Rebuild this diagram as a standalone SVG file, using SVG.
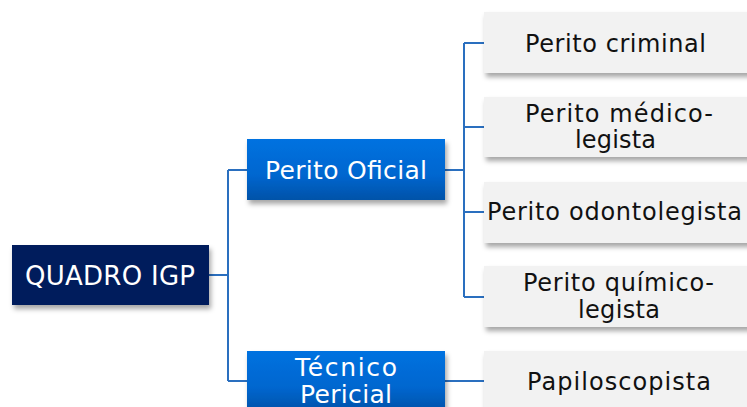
<svg xmlns="http://www.w3.org/2000/svg" width="747" height="407" viewBox="0 0 747 407">
<defs>
<linearGradient id="blueGrad" x1="0" y1="0" x2="0" y2="1">
<stop offset="0" stop-color="#0072e0"/>
<stop offset="0.6" stop-color="#0066cf"/>
<stop offset="1" stop-color="#0052a8"/>
</linearGradient>
<filter id="shadow" x="-10%" y="-20%" width="125%" height="160%">
<feDropShadow dx="2" dy="4" stdDeviation="2.5" flood-color="#000" flood-opacity="0.35"/>
</filter>
<style>
.root{fill:#001f5c;filter:url(#shadow)}
.mid{fill:url(#blueGrad);filter:url(#shadow)}
.leaf{fill:#f2f2f2;filter:url(#shadow)}
.tw{font-family:"DejaVu Sans","Liberation Sans",sans-serif;fill:#ffffff;text-anchor:middle}
.tb{font-family:"DejaVu Sans","Liberation Sans",sans-serif;fill:#111111;text-anchor:middle;font-size:24px}
.conn{fill:none;stroke:#2a6fbf;stroke-width:2}
</style>
</defs>
<rect width="747" height="407" fill="#ffffff"/>
<g id="connectors">
<path class="conn" d="M209,275 H228 M228,170 V381 M228,170 H247 M228,381 H247"/>
<path class="conn" d="M445,170 H464 M464,43 V297 M464,43 H484 M464,127 H484 M464,212 H484 M464,297 H484"/>
<path class="conn" d="M445,381 H484"/>
</g>
<g id="quadro-igp">
<rect class="root" x="12" y="245" width="197" height="60"/>
<text class="tw" x="110" y="285" font-size="26" textLength="170">QUADRO IGP</text>
</g>
<g id="perito-oficial">
<rect class="mid" x="247" y="139" width="198" height="61"/>
<text class="tw" x="346" y="179" font-size="25" textLength="162">Perito Oficial</text>
</g>
<g id="tecnico-pericial">
<rect class="mid" x="247" y="351" width="198" height="61"/>
<text class="tw" x="346" y="376" font-size="25" textLength="102">Técnico</text>
<text class="tw" x="346" y="403" font-size="25" textLength="92">Pericial</text>
</g>
<g id="perito-criminal">
<rect class="leaf" x="484" y="12" width="270" height="61"/>
<text class="tb" x="615.5" y="52" textLength="181">Perito criminal</text>
</g>
<g id="perito-medico-legista">
<rect class="leaf" x="484" y="97" width="270" height="60"/>
<text class="tb" x="619" y="122" textLength="188">Perito médico-</text>
<text class="tb" x="615.5" y="148" textLength="81">legista</text>
</g>
<g id="perito-odontolegista">
<rect class="leaf" x="484" y="182" width="270" height="61"/>
<text class="tb" x="614.5" y="220" textLength="255">Perito odontolegista</text>
</g>
<g id="perito-quimico-legista">
<rect class="leaf" x="484" y="266" width="270" height="61"/>
<text class="tb" x="618.5" y="291" textLength="191">Perito químico-</text>
<text class="tb" x="619" y="318" textLength="82">legista</text>
</g>
<g id="papiloscopista">
<rect class="leaf" x="484" y="351" width="270" height="61"/>
<text class="tb" x="619" y="390" textLength="184">Papiloscopista</text>
</g>
</svg>
